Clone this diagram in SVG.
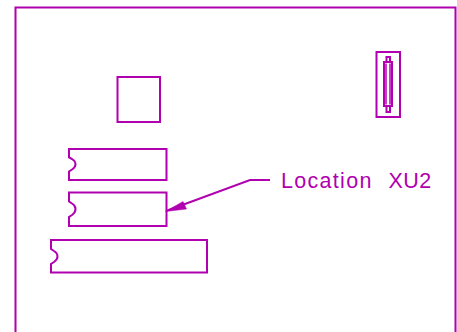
<svg xmlns="http://www.w3.org/2000/svg" width="457" height="332" viewBox="0 0 457 332">
<style>
.l{fill:none;stroke:#b000b0;stroke-width:2}
.t{fill:#b000b0;font-family:"Liberation Sans",Arial,sans-serif;font-size:21.500px;letter-spacing:1.300px}
</style>
<rect width="457" height="332" fill="#fff"/>
<g id="board"><path class="l" d="M15.500 332V7.500H455.500V332"/></g>
<g id="square"><rect class="l" x="117.500" y="77" width="42.500" height="45"/></g>
<g id="connector">
<rect class="l" x="376.500" y="52" width="23.500" height="65"/>
<rect class="l" x="384" y="62" width="8" height="44"/>
<path d="M386 63.500V104.500M390 63.500V104.500" stroke="#b000b0" stroke-width="1.500" fill="none"/>
<path class="l" d="M386.500 62V57H390V62M386.500 106V112H390V106"/>
</g>
<g id="chip1"><path class="l" d="M69 149H166.500V180H69V171.500L72 169.500Q75.500 167 75.500 164.500Q75.500 161 72 159L69 157.500Z"/></g>
<g id="chip2"><path class="l" d="M69 192.500H166.500V226H69V217L72 215Q75.500 212.500 75.500 209Q75.500 205.500 72 203.500L69 201.500Z"/></g>
<g id="chip3"><path class="l" d="M51 240H207V272.500H51V264L54 262Q57.500 259.500 57.500 256.500Q57.500 253 54 251L51 249Z"/></g>
<g id="connectors">
<path class="l" d="M166 211L250 180H270"/>
<path d="M165.500 211.500L183 201.500L186.500 209Z" fill="#b000b0" stroke="#b000b0" stroke-width="0.500"/>
</g>
<g id="label"><text class="t" x="281" y="188">Location</text><text class="t" x="388.500" y="188" style="letter-spacing:0.500px">XU2</text></g>
</svg>
